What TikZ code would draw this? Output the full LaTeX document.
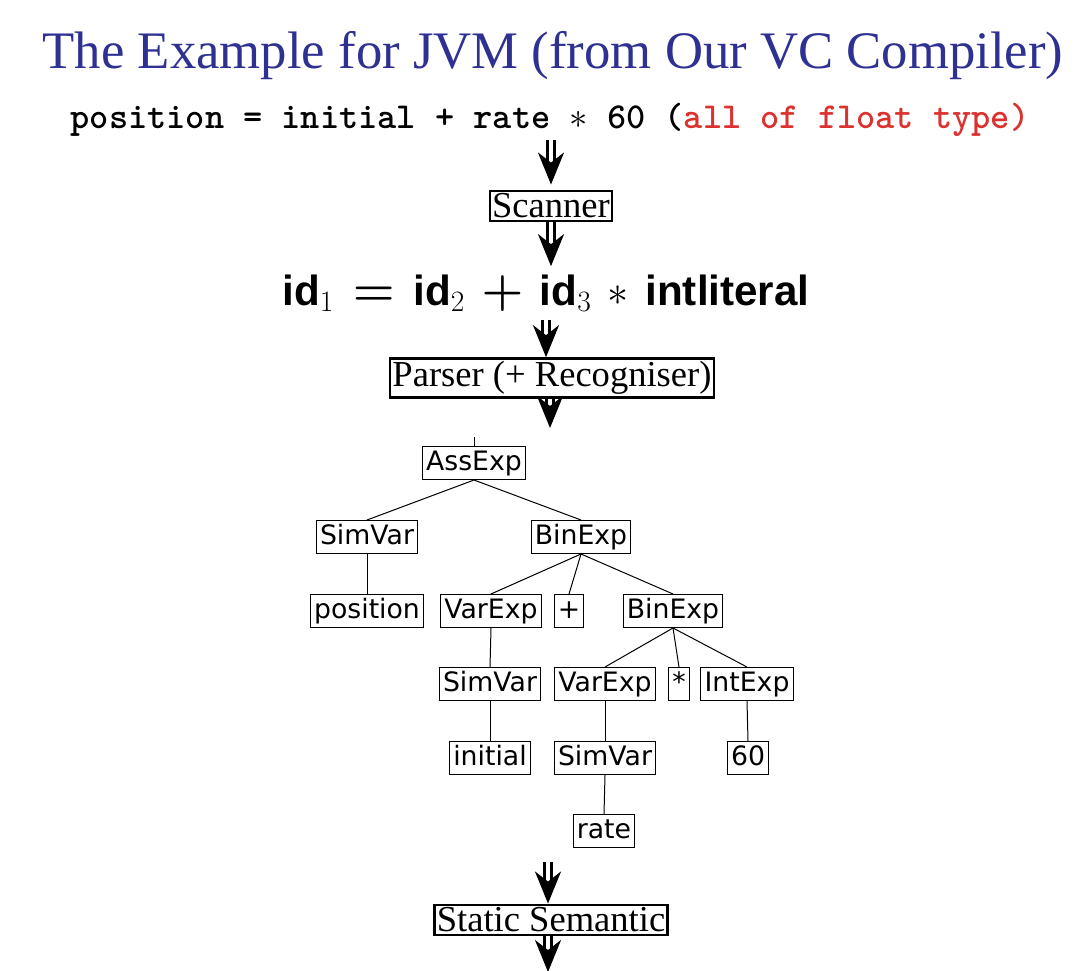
\RequirePackage{fix-cm}
\documentclass[tikz,border=0pt]{standalone}
\usepackage[no-math]{fontspec}
\setmainfont{Liberation Serif}
\setsansfont{Liberation Sans}
\newfontfamily\astfont{DejaVu Sans}
\newfontfamily\codefont{lmmonolt10-bold.otf}
\usetikzlibrary{arrows.meta,positioning}
\definecolor{slideblue}{RGB}{46,49,146}
\definecolor{hilite}{RGB}{220,50,47}
\tikzset{
  phase/.style={draw,line width=0.6mm,inner xsep=0.6mm,inner ysep=0.75mm,font=\fontsize{26}{30}\selectfont},
  ast/.style={draw,line width=0.25mm,inner xsep=0.9mm,inner ysep=0pt,minimum height=8.25mm,text height=14pt,text depth=4pt,font=\astfont\fontsize{19}{22}\selectfont},
  link/.style={line width=0.25mm},
  dbl/.style={double,double distance=1mm,line width=0.7mm,-{Stealth[length=8mm,width=6.5mm,inset=2.5mm]}}
}
\newcommand{\tk}[1]{\mbox{\sffamily\bfseries #1}}
\newcommand{\bop}[1]{\mbox{\fontsize{34}{38}\selectfont\boldmath$#1$}}

\begin{document}
\begin{tikzpicture}[x=0.25mm,y=-0.25mm]
\useasboundingbox (0,0) rectangle (1092,970);
% header
\node[anchor=base,text=slideblue,font=\fontsize{37.5}{44}\selectfont] (title) at (553,68) {The Example for JVM (from Our VC Compiler)};
\node[anchor=base,inner sep=1mm,font=\codefont\fontsize{26}{30}\selectfont] (src) at (550,128)
  {position = initial + rate \mbox{$\ast$} 60 (\textcolor{hilite}{all of float type)}};
% phases
\node[phase] (scan) at (551,206) {Scanner};
\node[anchor=base,inner sep=2mm,font=\fontsize{30}{36}\selectfont] (toks) at (546,305)
  {$\tk{id}_1 \mskip3mu\mathrel{\bop{=}}\mskip3mu \tk{id}_2 \mskip3mu\mathbin{\bop{+}}\mskip3mu \tk{id}_3 \mskip3mu\ast\mskip3mu \tk{intliteral}$};
\node[phase] (parse) at (552,378) {Parser (+ Recogniser)};
\coordinate (treetop) at (550,428);
% syntax tree
\node[ast] (ass) at (474,463) {AssExp};
\node[ast] (sv1) at (367,537) {SimVar};
\node[ast] (bin1) at (581,537) {BinExp};
\node[ast] (pos) at (367,611) {position};
\node[ast] (ve1) at (491,611) {VarExp};
\node[ast] (plus) at (569,611) {+};
\node[ast] (bin2) at (673,611) {BinExp};
\node[ast] (sv2) at (490,684) {SimVar};
\node[ast] (ve2) at (605,684) {VarExp};
\node[ast] (star) at (679,684) {*};
\node[ast] (ie) at (747,684) {IntExp};
\node[ast] (ini) at (490,758) {initial};
\node[ast] (sv3) at (605,758) {SimVar};
\node[ast] (sixty) at (748,758) {60};
\node[ast] (rate) at (604,831) {rate};
\coordinate (treeend) at (548,862);
\node[phase] (sem) at (551,920) {Static Semantic};
\coordinate (out) at (548,972);
% tree edges
\draw[link] (ass.north) -- ++(0,-9);
\draw[link] (ass.south) -- (sv1.north);
\draw[link] (ass.south) -- (bin1.north);
\draw[link] (sv1.south) -- (pos.north);
\draw[link] (bin1.south) -- (ve1.north);
\draw[link] (bin1.south) -- (plus.north);
\draw[link] (bin1.south) -- (bin2.north);
\draw[link] (ve1.south) -- (sv2.north);
\draw[link] (bin2.south) -- (ve2.north);
\draw[link] (bin2.south) -- (star.north);
\draw[link] (bin2.south) -- (ie.north);
\draw[link] (sv2.south) -- (ini.north);
\draw[link] (ve2.south) -- (sv3.north);
\draw[link] (ie.south) -- (sixty.north);
\draw[link] (sv3.south) -- (rate.north);
% pipeline arrows
\draw[dbl,shorten >=1.25mm] (src.south -| scan) -- (scan.north);
\draw[dbl] (scan.south) -- (scan.south |- toks.north);
\draw[dbl] (toks.south) -- (toks.south |- parse.north);
\draw[dbl] (parse.south -| treetop) -- (treetop);
\draw[dbl] (treeend) -- (treeend |- sem.north);
\draw[dbl] (sem.south -| out) -- (out);
\end{tikzpicture}
\end{document}
